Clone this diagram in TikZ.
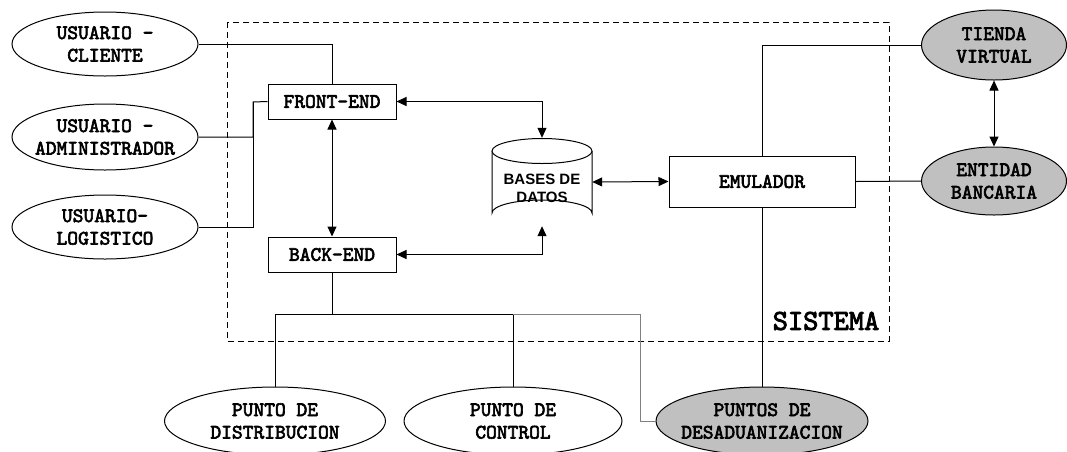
\documentclass[tikz,border=0pt]{standalone}
\usepackage{fontspec}
\usetikzlibrary{shapes.geometric,arrows.meta}
\newfontfamily\arialf{Liberation Sans}
\IfFontExistsTF{lmmono10-regular.otf}
  {\newfontfamily\courf{lmmono10-regular.otf}[FakeBold=3]}
  {\IfFontExistsTF{Latin Modern Mono}
     {\newfontfamily\courf{Latin Modern Mono}[FakeBold=3]}
     {\newfontfamily\courf{Liberation Mono}[FakeBold=1]}}
\definecolor{shade}{RGB}{192,192,192}
\tikzset{
  ln/.style={line width=1pt, draw=black},
  arr/.style={ln, {Triangle[length=10pt,width=9pt]}-{Triangle[length=10pt,width=9pt]}},
  ell/.style={ellipse, draw, line width=1pt, fill=white, inner sep=0pt},
  gell/.style={ell, fill=shade},
  txt/.style={align=center, inner sep=0pt, font=\courf\fontsize{20.5}{22.5}\selectfont},
  boxn/.style={draw, line width=1pt, fill=white, inner sep=0pt, font=\courf\fontsize{20.5}{22.5}\selectfont}
}
\begin{document}
\begin{tikzpicture}[x=1pt, y=-1pt]
\useasboundingbox (0,0) rectangle (1067,451);
% system boundary
\draw[line width=1pt, dash pattern=on 6pt off 4pt] (227,22) rectangle (889,341);
\node[font=\courf\fontsize{29}{32}\selectfont, inner sep=0pt] (sis) at (826,321) {SISTEMA};

% left actors
\node[ell, minimum width=186pt, minimum height=64pt] (cli) at (105,44) {};
\node[txt] (clit) at (cli) {USUARIO -\\CLIENTE};
\node[ell, minimum width=186pt, minimum height=66pt] (adm) at (105,137) {};
\node[txt] (admt) at (adm) {USUARIO -\\ADMINISTRADOR};
\node[ell, minimum width=186pt, minimum height=64pt] (lgs) at (105,227) {};
\node[txt] (lgst) at (lgs) {USUARIO-\\LOGISTICO};

% boxes
\node[boxn, minimum width=128pt, minimum height=35pt] (front) at (332,101.5) {FRONT-END};
\node[boxn, minimum width=128pt, minimum height=35pt] (back) at (332,254.5) {BACK-END};
\node[boxn, minimum width=186pt, minimum height=51pt] (emu) at (762,181.5) {EMULADOR};

% database
\node[minimum width=100pt, minimum height=88pt, inner sep=0pt] (db) at (542,182) {};
\filldraw[line width=1pt, fill=white] (492,151) -- (492,213) arc[start angle=180, end angle=0, x radius=50pt, y radius=13pt] -- (592,151);
\draw[line width=1pt, fill=white] (542,151) ellipse [x radius=50pt, y radius=12.5pt];
\node[align=center, inner sep=0pt, font=\arialf\bfseries\fontsize{15}{18}\selectfont] (dbt) at (542,188) {BASES DE\\DATOS};

% right actors
\node[gell, minimum width=145pt, minimum height=70pt] (tie) at (994,45) {};
\node[txt] (tiet) at (tie) {TIENDA\\VIRTUAL};
\node[gell, minimum width=145pt, minimum height=68pt] (ent) at (994,181) {};
\node[txt] (entt) at (ent) {ENTIDAD\\BANCARIA};

% bottom actors
\node[ell, minimum width=221pt, minimum height=68pt] (dist) at (275,421) {};
\node[txt] (distt) at (dist) {PUNTO DE\\DISTRIBUCION};
\node[ell, minimum width=218pt, minimum height=68pt] (ctrl) at (513,421) {};
\node[txt] (ctrlt) at (ctrl) {PUNTO DE\\CONTROL};
\node[gell, minimum width=212pt, minimum height=68pt] (des) at (762,421) {};
\node[txt] (dest) at (des) {PUNTOS DE\\DESADUANIZACION};

% junction coordinates
\coordinate (j) at (253,102);
\coordinate (b) at (332,314);
\coordinate (c2) at (640,421);

% connectors
\draw[ln] (cli.east) -| (front.north);
\draw[ln] (adm.east) -| (j) -- (front.west);
\draw[ln] (lgs.east) -| (j);
\draw[arr] (front.south) -- (back.north);
\draw[arr] (front.east) -| (db.north);
\draw[arr] (back.east) -| (db.south);
\draw[arr] (db.east) -- (emu.west);
\draw[ln] (emu.north) |- (tie.west);
\draw[ln] (emu.east) -- (ent.west);
\draw[arr] (tie.south) -- (ent.north);
\draw[ln] (emu.south) -- (des.north);
\draw[ln] (back.south) -- (b);
\draw[ln] (dist.north) |- (b);
\draw[ln] (b) -| (ctrl.north);
\draw[line width=1pt, draw=gray] (ctrl.north |- b) -| (c2) -- (des.west);
\end{tikzpicture}
\end{document}
